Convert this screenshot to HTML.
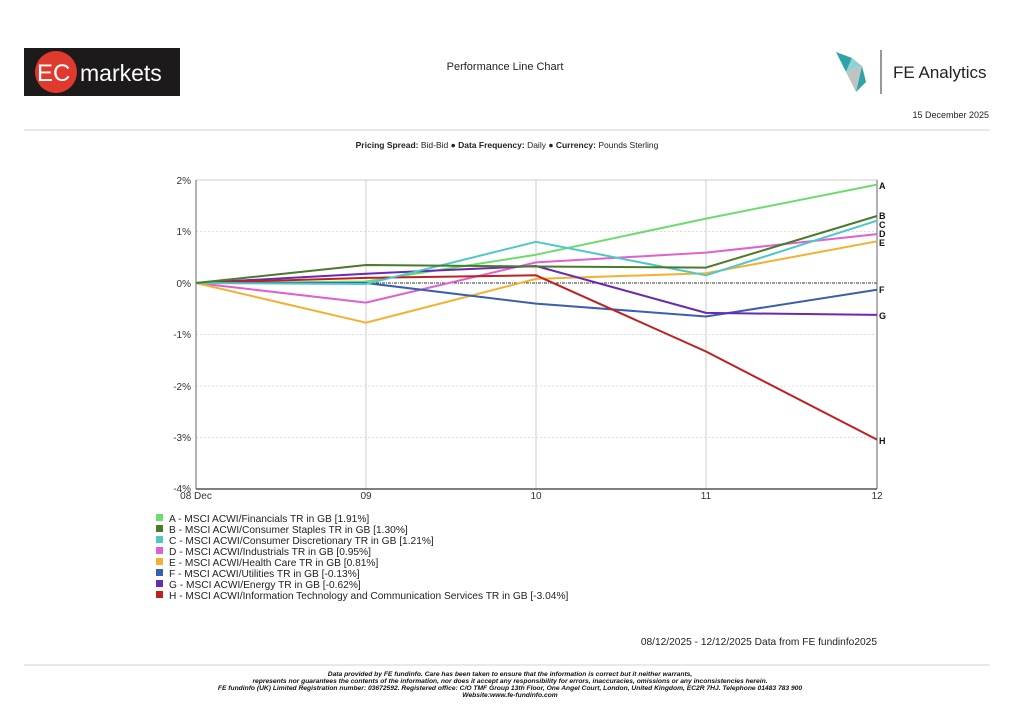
<!DOCTYPE html>
<html><head><meta charset="utf-8"><style>
html,body{margin:0;padding:0;background:#fff;}
svg{display:block;font-family:"Liberation Sans",sans-serif;}
</style></head><body>
<svg width="1024" height="724" viewBox="0 0 1024 724" xmlns="http://www.w3.org/2000/svg">
<rect x="24" y="48" width="156" height="48" fill="#1c1a1a"/>
<circle cx="56" cy="72" r="21" fill="#e0392d"/>
<text x="37" y="81" font-size="24" fill="#fff">EC</text>
<text x="80" y="81" font-size="23" fill="#fff">markets</text>
<text x="505" y="70" font-size="11" fill="#222" text-anchor="middle">Performance Line Chart</text>
<polygon points="836,52 852,58 846,72" fill="#2fa3a5"/>
<polygon points="846,72 862,66 856,92" fill="#bfc3c4"/>
<polygon points="852,58 862,66 846,72" fill="#8fd2d2"/>
<polygon points="856,92 862,66 866,82" fill="#2fa3a5"/>
<line x1="881" y1="50" x2="881" y2="94" stroke="#333" stroke-width="1"/>
<text x="893" y="78" font-size="17" fill="#222">FE Analytics</text>
<text x="989" y="118" font-size="9" fill="#222" text-anchor="end">15 December 2025</text>
<line x1="24" y1="130" x2="990" y2="130" stroke="#e2e2e2" stroke-width="1.5"/>
<text x="507" y="148" font-size="8.5" fill="#222" text-anchor="middle"><tspan font-weight="bold">Pricing Spread:</tspan> Bid-Bid ● <tspan font-weight="bold">Data Frequency:</tspan> Daily ● <tspan font-weight="bold">Currency:</tspan> Pounds Sterling</text>
<g stroke="#ccc" stroke-width="1">
<line x1="366" y1="180" x2="366" y2="489"/><line x1="536" y1="180" x2="536" y2="489"/><line x1="706" y1="180" x2="706" y2="489"/>
<line x1="196" y1="180" x2="877" y2="180"/>
</g>
<g stroke="#ddd" stroke-width="1" stroke-dasharray="2,2">
<line x1="196" y1="231.5" x2="877" y2="231.5"/><line x1="196" y1="334.5" x2="877" y2="334.5"/><line x1="196" y1="386" x2="877" y2="386"/><line x1="196" y1="437.5" x2="877" y2="437.5"/>
</g>
<line x1="196" y1="283" x2="877" y2="283" stroke="#333" stroke-width="1" stroke-dasharray="3,1,1,1"/>
<line x1="196" y1="180" x2="196" y2="489" stroke="#666"/>
<line x1="877" y1="180" x2="877" y2="489" stroke="#666"/>
<line x1="196" y1="489" x2="877" y2="489" stroke="#555" stroke-width="1.5"/>
<g font-size="10" fill="#333" text-anchor="end">
<text x="191" y="184">2%</text><text x="191" y="235">1%</text><text x="191" y="287">0%</text><text x="191" y="338">-1%</text><text x="191" y="390">-2%</text><text x="191" y="441">-3%</text><text x="191" y="492">-4%</text>
</g>
<g font-size="10" fill="#333" text-anchor="middle">
<text x="196" y="499">08 Dec</text><text x="366" y="499">09</text><text x="536" y="499">10</text><text x="706" y="499">11</text><text x="877" y="499">12</text>
</g>
<g fill="none" stroke-width="2" stroke-linejoin="round">
<polyline stroke="#6ddc6d" points="196,283 366,281.5 536,254.7 706,218.6 877,184.6"/>
<polyline stroke="#e060d0" points="196,283 366,302.6 536,262.4 706,252.6 877,234.1"/>
<polyline stroke="#f5b030" points="196,283 366,322.7 536,278.9 706,273.2 877,241.3"/>
<polyline stroke="#3a5fb0" points="196,283 366,283 536,303.6 706,316.5 877,289.7"/>
<polyline stroke="#6a2ab0" points="196,283 366,273.7 536,266 706,312.9 877,314.9"/>
<polyline stroke="#c02020" points="196,283 366,277.9 536,275.3 706,351.5 877,439.6"/>
<polyline stroke="#4cc8c8" points="196,283 366,284 536,241.8 706,275.3 877,220.7"/>
<polyline stroke="#4a7a2a" points="196,283 366,265 536,266.5 706,267.6 877,216"/>
</g>
<g font-size="9" font-weight="bold" fill="#111">
<text x="879" y="189">A</text><text x="879" y="219">B</text><text x="879" y="228">C</text><text x="879" y="237">D</text><text x="879" y="246">E</text><text x="879" y="293">F</text><text x="879" y="319">G</text><text x="879" y="444">H</text>
</g>
<g font-size="10.2" fill="#222">
<rect x="156" y="514" width="7" height="7" fill="#6ddc6d"/><text x="169" y="522">A - MSCI ACWI/Financials TR in GB [1.91%]</text>
<rect x="156" y="525" width="7" height="7" fill="#4a7a2a"/><text x="169" y="533">B - MSCI ACWI/Consumer Staples TR in GB [1.30%]</text>
<rect x="156" y="536" width="7" height="7" fill="#4cc8c8"/><text x="169" y="544">C - MSCI ACWI/Consumer Discretionary TR in GB [1.21%]</text>
<rect x="156" y="547" width="7" height="7" fill="#e060d0"/><text x="169" y="555">D - MSCI ACWI/Industrials TR in GB [0.95%]</text>
<rect x="156" y="558" width="7" height="7" fill="#f5b030"/><text x="169" y="566">E - MSCI ACWI/Health Care TR in GB [0.81%]</text>
<rect x="156" y="569" width="7" height="7" fill="#3a5fb0"/><text x="169" y="577">F - MSCI ACWI/Utilities TR in GB [-0.13%]</text>
<rect x="156" y="580" width="7" height="7" fill="#6a2ab0"/><text x="169" y="588">G - MSCI ACWI/Energy TR in GB [-0.62%]</text>
<rect x="156" y="591" width="7" height="7" fill="#c02020"/><text x="169" y="599">H - MSCI ACWI/Information Technology and Communication Services TR in GB [-3.04%]</text>
</g>
<text x="877" y="645" font-size="10.2" fill="#222" text-anchor="end">08/12/2025 - 12/12/2025 Data from FE fundinfo2025</text>
<line x1="24" y1="665" x2="990" y2="665" stroke="#e2e2e2" stroke-width="1.5"/>
<g font-size="6.7" font-weight="bold" font-style="italic" fill="#111" text-anchor="middle">
<text x="510" y="676">Data provided by FE fundinfo. Care has been taken to ensure that the information is correct but it neither warrants,</text>
<text x="510" y="683">represents nor guarantees the contents of the information, nor does it accept any responsibility for errors, inaccuracies, omissions or any inconsistencies herein.</text>
<text x="510" y="690">FE fundinfo (UK) Limited Registration number: 03672592. Registered office: C/O TMF Group 13th Floor, One Angel Court, London, United Kingdom, EC2R 7HJ. Telephone 01483 783 900</text>
<text x="510" y="697">Website:www.fe-fundinfo.com</text>
</g>
</svg>
</body></html>
